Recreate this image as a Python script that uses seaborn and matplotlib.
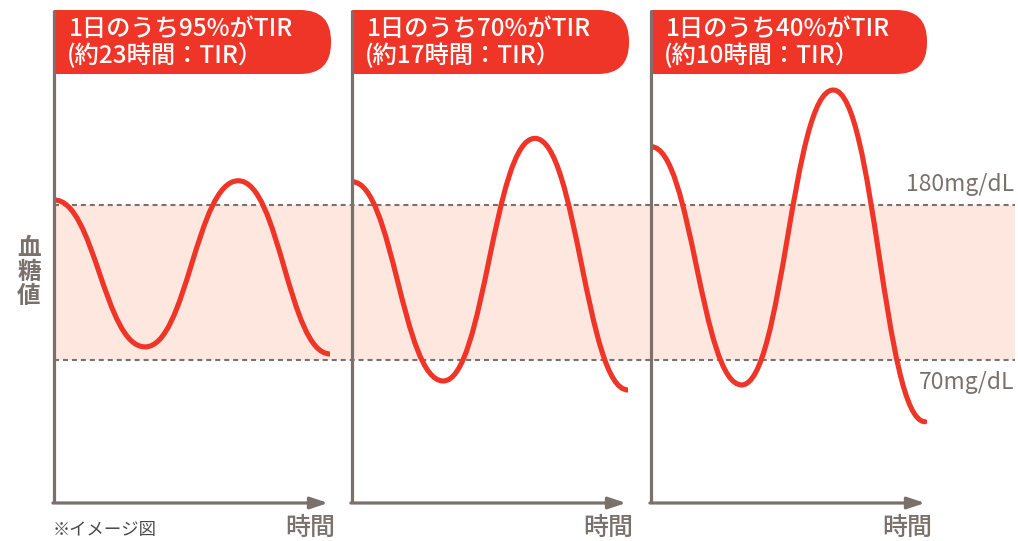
import matplotlib
matplotlib.use("Agg")
import matplotlib.pyplot as plt
from matplotlib.patches import FancyBboxPatch, Rectangle, PathPatch
from matplotlib.path import Path
import seaborn as sns
import pandas as pd

sns.set_theme(style="white")
plt.rcParams['font.family'] = ['Noto Sans CJK JP', 'DejaVu Sans']

# ---------------- data ----------------
panel_titles = ["1日のうち95%がTIR", "1日のうち70%がTIR", "1日のうち40%がTIR"]
panel_subtitles = ["(約23時間：TIR）", "(約17時間：TIR）", "(約10時間：TIR）"]
x_label = "時間"
y_label = "血\n糖\n値"
note = "※イメージ図"
range_low = 70
range_high = 180
range_labels = ["180mg/dL", "70mg/dL"]

# turning points of each glucose curve (hours, mg/dL): start, low, high, end
t1 = [0.0, 7.92, 16.03, 24.0]
g1 = [183.6, 79.3, 197.2, 74.3]

t2 = [0.0, 7.94, 15.91, 24.0]
g2 = [196.5, 55.1, 227.3, 48.7]

t3 = [0.0, 7.89, 15.85, 23.83]
g3 = [221.4, 52.3, 261.6, 26.2]

series = [(t1, g1), (t2, g2), (t3, g3)]

# ---------------- style ----------------
W, H = 1018, 541
RED = "#ee3527"
GRAY = "#7b716c"
PINK = "#fde7df"
YLIM = (-31.5, 318.4)
XLIM = (0, 24)
K = 0.45  # horizontal reach of the Bezier handles at each turning point

fig = plt.figure(figsize=(W / 100, H / 100), dpi=100)
fig.patch.set_facecolor("white")


def fx(px):
    return px / W


def fy(py):
    return 1 - py / H


def wave_path(xs, ys):
    """Smooth wave through turning points: cubic Bezier segments with
    horizontal tangents at every given point."""
    verts = [(xs[0], ys[0])]
    codes = [Path.MOVETO]
    for k in range(len(xs) - 1):
        dx = xs[k + 1] - xs[k]
        verts += [(xs[k] + K * dx, ys[k]), (xs[k + 1] - K * dx, ys[k + 1]),
                  (xs[k + 1], ys[k + 1])]
        codes += [Path.CURVE4] * 3
    return Path(verts, codes)


# background band axes (spans all panels)
bg = fig.add_axes([fx(54), fy(503), fx(1015 - 54), (503 - 10) / H])
bg.set_xlim(0, 1)
bg.set_ylim(*YLIM)
bg.set_zorder(0)
bg.axhspan(range_low, range_high, color=PINK, lw=0)
for v in (range_low, range_high):
    sns.lineplot(x=[0, 1], y=[v, v], ax=bg, color=GRAY, lw=1.5, dashes=False)
for ln in bg.get_lines():
    ln.set_dashes((2.4, 1.9))
bg.set_xlim(0, 1)
bg.set_ylim(*YLIM)
bg.axis("off")

# overlay axes in pixel coordinates for decorations
ov = fig.add_axes([0, 0, 1, 1])
ov.set_xlim(0, W)
ov.set_ylim(H, 0)
ov.axis("off")
ov.set_zorder(1)
ov.patch.set_alpha(0)

panel_x0 = [54, 352, 651]
panel_w = 276
box_right = [331, 629, 927]

for i, (x0, (tt, gg)) in enumerate(zip(panel_x0, series)):
    # header box
    bw = box_right[i] - x0
    ov.add_patch(FancyBboxPatch((x0, 10), bw, 64,
                                boxstyle="round,pad=0,rounding_size=31",
                                facecolor=RED, edgecolor="none"))
    ov.add_patch(Rectangle((x0, 10), 60, 64, facecolor=RED, edgecolor="none"))
    ov.text(x0 + 15, 29, panel_titles[i], color="white", fontsize=17.5,
            va="center", ha="left", fontweight="medium")
    ov.text(x0 + 13, 56, panel_subtitles[i], color="white", fontsize=17.5,
            va="center", ha="left", fontweight="medium")
    ov.text(x0 + 256, 528, x_label, color=GRAY, fontsize=18,
            va="center", ha="center", fontweight="medium")

    ax = fig.add_axes([fx(x0), fy(503), panel_w / W, (503 - 10) / H])
    ax.set_zorder(2)
    ax.patch.set_alpha(0)
    ax.add_patch(PathPatch(wave_path(tt, gg), facecolor="none", edgecolor=RED,
                           lw=3.7, capstyle="round", joinstyle="round"))
    ax.set_xlim(*XLIM)
    ax.set_ylim(*YLIM)
    sns.despine(ax=ax, top=True, right=True, bottom=True, left=False)
    ax.spines["left"].set_color(GRAY)
    ax.spines["left"].set_linewidth(2.3)
    ax.spines["left"].set_capstyle("butt")
    ax.set_xticks([])
    ax.set_yticks([])
    ax.annotate("", xy=(0.993, 0), xytext=(-0.004, 0), xycoords="axes fraction",
                arrowprops=dict(arrowstyle="-|>,head_length=0.75,head_width=0.25",
                                lw=2.3, color=GRAY, shrinkA=0, shrinkB=0,
                                mutation_scale=14))

ov.text(1014, 185, range_labels[0], color=GRAY, fontsize=16.5, ha="right", va="center")
ov.text(1014, 383, range_labels[1], color=GRAY, fontsize=16.5, ha="right", va="center")
ov.text(29, 272, y_label, color=GRAY, fontsize=17, ha="center", va="center",
        linespacing=1.0, fontweight="bold")
ov.text(53, 530, note, color="#4a4a4a", fontsize=12.5, ha="left", va="center")

fig.savefig("out.png", dpi=100, facecolor="white")
